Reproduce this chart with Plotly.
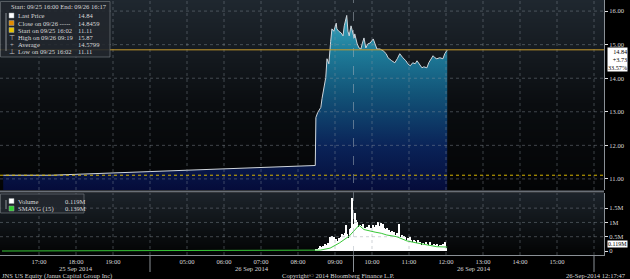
import plotly.graph_objects as go

# ---------------- data ----------------
price_days = ["25", "25"] + ["26"] * 64
price_clock = ["16:02", "17:20",
               "08:28", "08:29", "08:32", "08:37", "08:39", "08:42", "08:45", "08:47",
               "08:50", "08:53", "08:55", "08:58", "09:02", "09:03", "09:06", "09:10",
               "09:13", "09:15", "09:19", "09:21", "09:23", "09:26", "09:28", "09:31",
               "09:32", "09:36", "09:39", "09:42", "09:44", "09:47", "09:50", "09:53",
               "09:57", "10:02", "10:05", "10:08", "10:13", "10:18", "10:23", "10:26",
               "10:32", "10:37", "10:41", "10:45", "10:50", "10:55", "10:58", "11:02",
               "11:06", "11:10", "11:13", "11:16", "11:21", "11:24", "11:29", "11:32",
               "11:36", "11:39", "11:42", "11:45", "11:50", "11:55", "11:58", "12:02"]
price_vals = [11.11, 11.11,
              11.40, 12.83, 12.98, 13.13, 13.40, 13.69, 14.02, 14.58,
              14.43, 15.10, 15.47, 15.40, 15.64, 15.47, 15.40, 15.35,
              15.26, 15.56, 15.87, 15.40, 15.26, 15.56, 15.40, 15.20,
              15.32, 15.02, 14.90, 14.87, 15.02, 15.20, 14.90, 15.02,
              15.05, 15.17, 15.02, 14.87, 14.87, 14.82, 14.73, 14.61,
              14.52, 14.46, 14.58, 14.73, 14.61, 14.52, 14.43, 14.37,
              14.46, 14.43, 14.52, 14.43, 14.31, 14.34, 14.31, 14.46,
              14.58, 14.67, 14.61, 14.58, 14.61, 14.58, 14.73, 14.84]

last_price = 14.84
close_price = 14.8459
start_price = 11.11
high_price = 15.87
avg_price = 14.5799
low_price = 11.11
net_change = 3.73
pct_change = 33.57

# volume, 2-minute bars from 26 Sep 08:30 (millions)
vol_start = "08:30"
vol_vals = [0.04, 0.08, 0.12, 0.17, 0.14, 0.19, 0.16, 0.24, 0.20, 0.27,
            0.22, 0.50, 0.45, 0.52, 0.48, 0.36, 0.42, 0.35, 0.45, 0.40,
            0.50, 0.58, 0.55, 0.62, 0.90,
            0.60, 0.45, 0.78, 0.80, 1.85, 0.95, 1.33, 1.10, 1.00, 0.85,
            0.90, 0.78, 0.88, 0.95, 0.80, 0.82, 0.85, 0.78, 0.90, 0.82,
            0.80, 0.90, 0.85, 0.92, 0.82, 1.00, 0.88, 0.98, 0.85, 0.95,
            0.80, 0.78, 0.82, 0.72, 0.75, 0.65, 0.70, 0.60, 0.68, 0.55,
            0.62, 0.58, 0.95, 0.50, 0.55, 0.45, 0.52, 0.48, 0.40, 0.45,
            0.35, 0.50, 0.38, 0.30, 0.40, 0.35, 0.28, 0.38, 0.25, 0.30,
            0.22, 0.28, 0.20, 0.26, 0.30, 0.24, 0.22, 0.30, 0.18, 0.22,
            0.25, 0.15, 0.20, 0.24, 0.18, 0.22, 0.16, 0.20, 0.25, 0.30,
            0.12]

sma_days = ["25"] + ["26"] * 18
sma_clock = ["16:00", "08:30", "08:36", "08:52", "09:07", "09:23", "09:31", "09:39",
             "09:47", "09:55", "10:05", "10:15", "10:24", "10:40", "10:57", "11:13",
             "11:29", "11:45", "12:02"]
sma_vals = [0.0, 0.01, 0.03, 0.10, 0.28, 0.52, 0.70, 0.90, 0.75, 0.70, 0.66,
            0.62, 0.56, 0.50, 0.35, 0.28, 0.21, 0.15, 0.139]
last_volume = 0.119
last_sma = 0.139

tick_pos = [1, 2, 3, 5, 6, 7, 8, 9, 10, 11, 12, 13, 14, 15]
tick_text = ["17:00", "18:00", "19:00", "05:00", "06:00", "07:00", "08:00",
             "09:00", "10:00", "11:00", "12:00", "13:00", "14:00", "15:00"]
price_ticks = [11, 12, 13, 14, 15, 16]
vol_ticks = [0, 0.5, 1, 1.5]
vol_ticktext = ["0", "0.5M", "1M", "1.5M"]
date_labels = [(2, "25 Sep 2014"), (6.75, "26 Sep 2014"), (12.75, "26 Sep 2014")]
session_breaks = [4, 9.5, 16]


# session time -> compressed axis position (25 Sep 16:00 = 0, overnight removed)
def tpos(day, hhmm):
    h, m = hhmm.split(":")
    v = int(h) + int(m) / 60.0
    return v - 16 if day == "25" else v


price_x = [tpos(d, c) for d, c in zip(price_days, price_clock)]
v0 = tpos("26", vol_start)
vol_x = [v0 + i * 2 / 60.0 for i in range(len(vol_vals))]
sma_x = [tpos(d, c) for d, c in zip(sma_days, sma_clock)]

# ---------------- layout geometry ----------------
W, H = 630, 279
MR, MB = 26, 24
PW, PH = W - MR, H - MB
XR = [-0.054, 16.27]
PR = [10.67, 16.33]
VR = [-0.14, 2.03]


def fx(px):
    return px / PW


def fy(py):
    return 1 - py / PH


FONT = "Liberation Serif"
TXT = "#d8d8d8"
FS = 6.6

fig = go.Figure()

# background gradients (heatmaps sit beneath bars and lines)
fig.add_trace(go.Heatmap(x=[XR[0] - 1, XR[1] + 1], y=[PR[0], PR[1]], z=[[0, 0], [1, 1]],
                         zsmooth="best", showscale=False, hoverinfo="skip",
                         colorscale=[[0, "#030405"], [0.45, "#0a0d10"], [1, "#1f272f"]],
                         xaxis="x", yaxis="y"))
fig.add_trace(go.Heatmap(x=[XR[0] - 1, XR[1] + 1], y=[VR[0], VR[1]], z=[[0, 0], [1, 1]],
                         zsmooth="best", showscale=False, hoverinfo="skip",
                         colorscale=[[0, "#020303"], [1, "#1c232a"]],
                         xaxis="x2", yaxis="y2"))

# price area
fig.add_trace(go.Scatter(x=price_x, y=price_vals, mode="lines", fill="tozeroy",
                         line=dict(color="#cfd6dc", width=1), showlegend=False,
                         fillgradient=dict(type="vertical", start=10.67, stop=15.9,
                                           colorscale=[[0, "#050c3a"], [0.25, "#0a2358"],
                                                       [0.55, "#125478"], [0.8, "#1f7e9b"],
                                                       [1, "#3aa6bf"]]),
                         xaxis="x", yaxis="y"))

# volume bars and SMAVG
fig.add_trace(go.Bar(x=vol_x, y=vol_vals, width=0.031, marker=dict(color="#ffffff", line_width=0),
                     showlegend=False, xaxis="x2", yaxis="y2"))
fig.add_trace(go.Scatter(x=sma_x, y=sma_vals, mode="lines", line=dict(color="#38c838", width=1),
                         showlegend=False, xaxis="x2", yaxis="y2"))

shapes = []
GRID = dict(color="rgba(140,150,160,0.42)", width=1, dash="dot")
for t in range(1, 17):
    shapes.append(dict(type="line", xref="x", yref="paper", x0=t, x1=t, y0=fy(190), y1=1, line=GRID))
    shapes.append(dict(type="line", xref="x2", yref="paper", x0=t, x1=t, y0=0, y1=fy(193), line=GRID))
shapes.append(dict(type="line", xref="x", yref="paper", x0=9.5, x1=9.5, y0=0, y1=1,
                   line=dict(color="rgba(170,180,190,0.5)", width=1, dash="dash")))
for p in price_ticks:
    shapes.append(dict(type="line", xref="paper", yref="y", x0=0, x1=1, y0=p, y1=p, line=GRID))
for v in vol_ticks[1:]:
    shapes.append(dict(type="line", xref="paper", yref="y2", x0=0, x1=1, y0=v, y1=v, line=GRID))
for t in session_breaks:
    shapes.append(dict(type="line", xref="x2", yref="paper", x0=t, x1=t, y0=0, y1=fy(272),
                       line=dict(color="#8a9096", width=1)))
shapes.append(dict(type="line", xref="paper", yref="y", x0=0, x1=1, y0=close_price, y1=close_price,
                   line=dict(color="#c99b2a", width=1)))
shapes.append(dict(type="line", xref="paper", yref="y", x0=0, x1=1, y0=start_price, y1=start_price,
                   line=dict(color="#d8b400", width=1, dash="dot")))
shapes.append(dict(type="rect", xref="paper", yref="paper", x0=0, x1=1, y0=fy(192.5), y1=fy(190.5),
                   fillcolor="#6a7078", line_width=0))
shapes.append(dict(type="rect", xref="paper", yref="paper", x0=fx(0.5), x1=fx(110), y0=fy(57), y1=fy(1.5),
                   fillcolor="rgba(34,39,45,0.88)", line=dict(color="rgba(110,115,120,0.7)", width=1)))
shapes.append(dict(type="rect", xref="paper", yref="paper", x0=fx(0.5), x1=fx(84), y0=fy(213), y1=fy(194),
                   fillcolor="rgba(34,39,45,0.88)", line=dict(color="rgba(110,115,120,0.7)", width=1)))
shapes.append(dict(type="line", xref="paper", yref="paper", x0=fx(6), x1=fx(6), y0=fy(51), y1=fy(13),
                   line=dict(color="#8a8f95", width=1)))
shapes.append(dict(type="line", xref="paper", yref="paper", x0=fx(6), x1=fx(6), y0=fy(209), y1=fy(200),
                   line=dict(color="#8a8f95", width=1)))


def sq(px, py, color):
    shapes.append(dict(type="rect", xref="paper", yref="paper", x0=fx(px - 2.5), x1=fx(px + 2.5),
                       y0=fy(py + 2.5), y1=fy(py - 2.5), fillcolor=color,
                       line=dict(color="#9aa0a6", width=0.5)))


sq(11.5, 15.5, "#ffffff")
sq(11.5, 23, "#e08a00")
sq(11.5, 30, "#e6c300")
sq(11.5, 201, "#ffffff")
sq(11.5, 208.5, "#30d030")

ann = []


def txt(px, py, s, anchor="left", size=FS, color=TXT, **kw):
    d = dict(xref="paper", yref="paper", x=fx(px), y=fy(py), text=s, showarrow=False,
             xanchor=anchor, yanchor="middle", font=dict(family=FONT, size=size, color=color))
    d.update(kw)
    ann.append(d)


txt(9, 6.5, "Start: 09/25 16:00 End: 09/26 16:17")
rows = [("Last Price", f"{last_price:.2f}", 15.5),
        ("Close on 09/26 -----", f"{close_price:.4f}", 23),
        ("Start on 09/25 16:02", f"{start_price:.2f}", 30),
        ("High on 09/26 09:19", f"{high_price:.2f}", 37),
        ("Average", f"{avg_price:.4f}", 44),
        ("Low on 09/25 16:02", f"{low_price:.2f}", 51.5)]
for lab, val, y in rows:
    txt(16, y, lab)
    txt(76, y, val)
txt(11.5, 37, "⊤", anchor="center", color="#c0c0c0")
txt(11.5, 44, "+", anchor="center", color="#c0c0c0")
txt(11.5, 51.5, "⊥", anchor="center", color="#c0c0c0")
txt(16, 201, "Volume")
txt(63, 201, f"{last_volume:.3f}M")
txt(16, 208.5, "SMAVG (15)")
txt(63, 208.5, f"{last_sma:.3f}M")

# right value boxes
ann.append(dict(xref="paper", yref="paper", x=fx(606.5), y=fy(59), xanchor="left", yanchor="middle",
                text=f"{last_price:.2f}<br>+{net_change:.2f}<br>{pct_change:.2f}%", showarrow=False,
                align="right", bgcolor="#ffffff", borderpad=0,
                font=dict(family=FONT, size=6.2, color="#000000")))
ann.append(dict(xref="paper", yref="paper", x=fx(606.5), y=fy(243.5), xanchor="left",
                yanchor="middle", text=f"{last_volume:.3f}M", showarrow=False, bgcolor="#ffffff",
                borderpad=0, font=dict(family=FONT, size=6, color="#000000")))

for t, s in date_labels:
    ann.append(dict(xref="x2", yref="paper", x=t, y=fy(268), text=s, showarrow=False,
                    xanchor="center", yanchor="middle", font=dict(family=FONT, size=FS, color=TXT)))

txt(0, 275.5, "JNS US Equity (Janus Capital Group Inc)")
txt(338, 275.5, "Copyright© 2014 Bloomberg Finance L.P.", anchor="center")
txt(628, 275.5, "26-Sep-2014 12:17:47", anchor="right")

AX = dict(showgrid=False, zeroline=False)
fig.update_layout(
    width=W, height=H, margin=dict(l=0, r=MR, t=0, b=MB, pad=0),
    paper_bgcolor="#000000", plot_bgcolor="#000000",
    showlegend=False, bargap=0,
    xaxis=dict(domain=[0, 1], range=XR, anchor="y", showticklabels=False, matches="x2",
               showline=False, **AX),
    xaxis2=dict(domain=[0, 1], range=XR, anchor="y2", tickvals=tick_pos, ticktext=tick_text,
                ticks="", tickfont=dict(family=FONT, size=FS, color=TXT),
                showline=True, linecolor="#8a9096", linewidth=1, **AX),
    yaxis=dict(domain=[fy(190), 1], range=PR, side="right", anchor="x", tickvals=price_ticks,
               tickformat=".2f", ticks="outside", ticklen=3, tickcolor="#e0e0e0",
               tickfont=dict(family=FONT, size=FS, color=TXT), showline=True,
               linecolor="#8a9096", linewidth=1, **AX),
    yaxis2=dict(domain=[0, fy(193)], range=VR, side="right", anchor="x2", tickvals=vol_ticks,
                ticktext=vol_ticktext, ticks="outside", ticklen=3, tickcolor="#e0e0e0",
                tickfont=dict(family=FONT, size=FS, color=TXT), showline=True,
                linecolor="#8a9096", linewidth=1, **AX),
    shapes=shapes, annotations=ann,
)

fig.write_html("out.html")
